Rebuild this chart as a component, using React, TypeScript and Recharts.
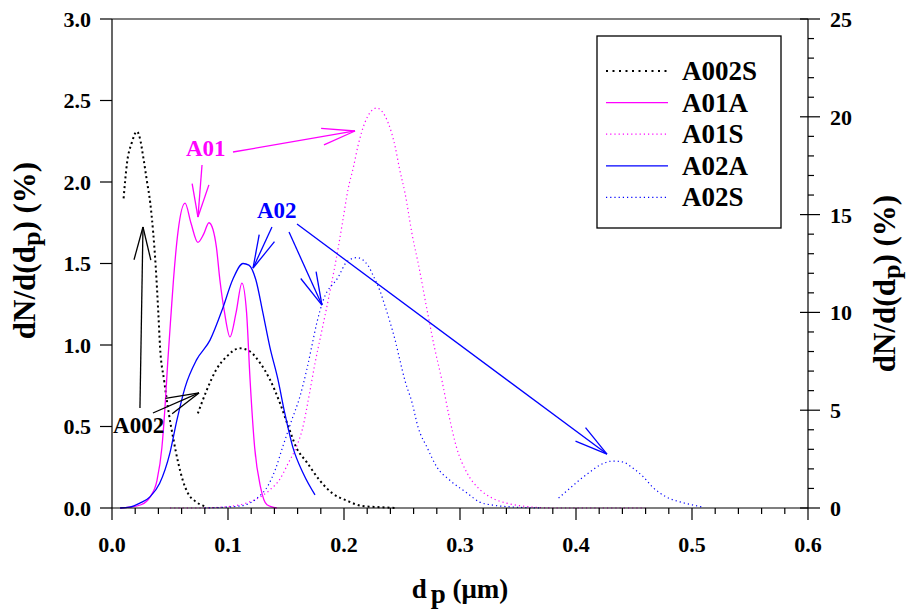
import React from "react";
import { LineChart, Line, XAxis, YAxis, ReferenceLine, ReferenceDot, Legend } from "recharts";

// dp in µm ; y in % (left axis 0-3, right axis 0-25)
type Pt = { x: number; y: number | null };

const A002S: Pt[] = [
  { x: 0.01, y: 1.9 }, { x: 0.013, y: 2.12 }, { x: 0.017, y: 2.24 }, { x: 0.0215, y: 2.31 },
  { x: 0.024, y: 2.27 }, { x: 0.027, y: 2.15 }, { x: 0.03, y: 2.01 }, { x: 0.033, y: 1.87 },
  { x: 0.0355, y: 1.69 }, { x: 0.0377, y: 1.48 }, { x: 0.0399, y: 1.2 }, { x: 0.0414, y: 0.99 },
  { x: 0.045, y: 0.78 }, { x: 0.049, y: 0.58 }, { x: 0.053, y: 0.42 }, { x: 0.057, y: 0.28 },
  { x: 0.061, y: 0.17 }, { x: 0.0655, y: 0.09 }, { x: 0.072, y: 0.04 }, { x: 0.08, y: 0.01 },
];

const A002A: Pt[] = [
  { x: 0.074, y: 0.58 }, { x: 0.0815, y: 0.72 }, { x: 0.09, y: 0.85 }, { x: 0.099, y: 0.93 },
  { x: 0.11, y: 0.98 }, { x: 0.119, y: 0.96 }, { x: 0.1276, y: 0.89 }, { x: 0.136, y: 0.79 },
  { x: 0.145, y: 0.64 }, { x: 0.152, y: 0.5 }, { x: 0.159, y: 0.37 }, { x: 0.168, y: 0.28 },
  { x: 0.179, y: 0.17 }, { x: 0.19, y: 0.09 }, { x: 0.2026, y: 0.045 }, { x: 0.216, y: 0.012 },
  { x: 0.231, y: 0.005 }, { x: 0.245, y: 0 },
];

const A01A: Pt[] = [
  { x: 0.007, y: 0 }, { x: 0.015, y: 0.005 }, { x: 0.025, y: 0.02 }, { x: 0.033, y: 0.07 },
  { x: 0.0388, y: 0.17 }, { x: 0.043, y: 0.37 }, { x: 0.0457, y: 0.62 }, { x: 0.048, y: 0.89 },
  { x: 0.051, y: 1.2 }, { x: 0.053, y: 1.4 }, { x: 0.057, y: 1.7 }, { x: 0.063, y: 1.87 },
  { x: 0.068, y: 1.75 }, { x: 0.074, y: 1.63 }, { x: 0.079, y: 1.68 }, { x: 0.0836, y: 1.75 },
  { x: 0.087, y: 1.71 }, { x: 0.09, y: 1.6 }, { x: 0.093, y: 1.4 }, { x: 0.097, y: 1.2 },
  { x: 0.1017, y: 1.05 }, { x: 0.107, y: 1.2 }, { x: 0.112, y: 1.38 }, { x: 0.116, y: 1.2 },
  { x: 0.119, y: 0.79 }, { x: 0.123, y: 0.37 }, { x: 0.128, y: 0.13 }, { x: 0.1336, y: 0.02 },
  { x: 0.142, y: 0 },
];

const A01S: Pt[] = [
  { x: 0.05, y: 0 }, { x: 0.075, y: 0 }, { x: 0.0957, y: 0.05 }, { x: 0.116, y: 0.26 },
  { x: 0.136, y: 0.92 }, { x: 0.145, y: 1.5 }, { x: 0.152, y: 2.3 }, { x: 0.158, y: 3.0 },
  { x: 0.164, y: 4.0 }, { x: 0.1707, y: 6.0 }, { x: 0.175, y: 7.4 }, { x: 0.181, y: 9.1 },
  { x: 0.188, y: 11.1 }, { x: 0.195, y: 13.3 }, { x: 0.199, y: 14.7 }, { x: 0.2035, y: 16.3 },
  { x: 0.208, y: 17.4 }, { x: 0.212, y: 18.5 }, { x: 0.218, y: 19.7 }, { x: 0.228, y: 20.45 },
  { x: 0.238, y: 19.7 }, { x: 0.244, y: 18.5 }, { x: 0.248, y: 17.3 }, { x: 0.2526, y: 16.1 },
  { x: 0.259, y: 13.9 }, { x: 0.264, y: 12.5 }, { x: 0.272, y: 10.0 }, { x: 0.278, y: 8.2 },
  { x: 0.2845, y: 6.5 }, { x: 0.29, y: 4.86 }, { x: 0.297, y: 3.1 }, { x: 0.306, y: 1.8 },
  { x: 0.317, y: 0.95 }, { x: 0.328, y: 0.5 }, { x: 0.34, y: 0.25 }, { x: 0.354, y: 0.1 },
  { x: 0.38, y: 0 }, { x: 0.46, y: 0 },
];

const A02A: Pt[] = [
  { x: 0.007, y: 0 }, { x: 0.015, y: 0.005 }, { x: 0.024, y: 0.03 }, { x: 0.033, y: 0.07 },
  { x: 0.041, y: 0.15 }, { x: 0.05, y: 0.34 }, { x: 0.056, y: 0.54 }, { x: 0.063, y: 0.74 },
  { x: 0.073, y: 0.91 }, { x: 0.0845, y: 1.03 }, { x: 0.0957, y: 1.23 }, { x: 0.104, y: 1.4 },
  { x: 0.113, y: 1.5 }, { x: 0.118, y: 1.49 }, { x: 0.124, y: 1.4 }, { x: 0.13, y: 1.2 },
  { x: 0.136, y: 0.99 }, { x: 0.143, y: 0.79 }, { x: 0.149, y: 0.58 }, { x: 0.156, y: 0.37 },
  { x: 0.165, y: 0.21 }, { x: 0.175, y: 0.08 },
];

const A02S: Pt[] = [
  { x: 0.08, y: 0 }, { x: 0.11, y: 0.1 }, { x: 0.125, y: 0.5 }, { x: 0.135, y: 1.2 },
  { x: 0.141, y: 2.0 }, { x: 0.147, y: 3.1 }, { x: 0.155, y: 4.5 }, { x: 0.162, y: 5.7 },
  { x: 0.168, y: 7.1 }, { x: 0.172, y: 8.2 }, { x: 0.1767, y: 9.5 }, { x: 0.182, y: 10.6 },
  { x: 0.195, y: 11.8 }, { x: 0.2026, y: 12.6 }, { x: 0.211, y: 12.8 }, { x: 0.2207, y: 12.4 },
  { x: 0.225, y: 11.9 }, { x: 0.231, y: 11.1 }, { x: 0.2355, y: 10.3 }, { x: 0.2397, y: 9.5 },
  { x: 0.244, y: 8.6 }, { x: 0.248, y: 7.6 }, { x: 0.2526, y: 6.5 }, { x: 0.2586, y: 5.4 },
  { x: 0.264, y: 4.1 }, { x: 0.2716, y: 3.1 }, { x: 0.28, y: 2.1 }, { x: 0.291, y: 1.43 },
  { x: 0.306, y: 0.77 }, { x: 0.317, y: 0.3 }, { x: 0.328, y: 0.15 }, { x: 0.346, y: 0.05 },
  { x: 0.37, y: 0 }, { x: 0.378, y: null },
  { x: 0.385, y: 0.51 }, { x: 0.395, y: 1.02 }, { x: 0.403, y: 1.43 }, { x: 0.412, y: 1.84 },
  { x: 0.4207, y: 2.2 }, { x: 0.432, y: 2.4 }, { x: 0.4405, y: 2.35 }, { x: 0.449, y: 2.04 },
  { x: 0.458, y: 1.6 }, { x: 0.466, y: 1.07 }, { x: 0.478, y: 0.56 }, { x: 0.4897, y: 0.31 },
  { x: 0.501, y: 0.15 }, { x: 0.5086, y: 0.05 },
];

const X_TICKS = [
  0, 0.02, 0.04, 0.06, 0.08, 0.1, 0.12, 0.14, 0.16, 0.18, 0.2, 0.22, 0.24, 0.26, 0.28, 0.3,
  0.32, 0.34, 0.36, 0.38, 0.4, 0.42, 0.44, 0.46, 0.48, 0.5, 0.52, 0.54, 0.56, 0.58, 0.6,
];
const LEFT_TICKS = [0, 0.5, 1, 1.5, 2, 2.5, 3];
const RIGHT_TICKS = [
  0, 1, 2, 3, 4, 5, 6, 7, 8, 9, 10, 11, 12, 13, 14, 15, 16, 17, 18, 19, 20, 21, 22, 23, 24, 25,
];

const MAGENTA = "#ff00ff";
const BLUE = "#0000ff";
const FONT = '"Liberation Serif", "Times New Roman", serif';

const SERIES = [
  { name: "A002S", data: A002S, axis: "left", color: "#000", width: 2, dash: "2 3", legend: true },
  { name: "A002A", data: A002A, axis: "left", color: "#000", width: 2, dash: "2 3", legend: false },
  { name: "A01A", data: A01A, axis: "left", color: MAGENTA, width: 1.3, dash: undefined, legend: true },
  { name: "A01S", data: A01S, axis: "right", color: MAGENTA, width: 1.2, dash: "1.2 3", legend: true },
  { name: "A02A", data: A02A, axis: "left", color: BLUE, width: 1.3, dash: undefined, legend: true },
  { name: "A02S", data: A02S, axis: "right", color: BLUE, width: 1.2, dash: "1.2 3", legend: true },
];

// annotations, in data units of the left axis
const NOTES = [
  { text: "A01", x: 0.0638, y: 2.16, color: MAGENTA },
  { text: "A02", x: 0.125, y: 1.779, color: BLUE },
  { text: "A002", x: 0.0009, y: 0.46, color: "#000" },
];
const ARROWS = [
  { color: MAGENTA, from: [0.1043, 2.184], to: [0.2095, 2.313] },
  { color: MAGENTA, from: [0.0776, 2.104], to: [0.0741, 1.785] },
  { color: BLUE, from: [0.1379, 1.724], to: [0.1216, 1.472] },
  { color: BLUE, from: [0.1526, 1.693], to: [0.181, 1.245] },
  { color: BLUE, from: [0.1595, 1.742], to: [0.4267, 0.331] },
  { color: "#000", from: [0.0241, 0.613], to: [0.0267, 1.724] },
  { color: "#000", from: [0.0353, 0.583], to: [0.075, 0.706] },
];

const TICK_SIZE = 12;
const X_MARGIN = 16;
const R_MARGIN = 10;

const arrowShape = (color: string) => (p: any) => {
  const { x1, y1, x2, y2 } = p;
  const ang = Math.atan2(y2 - y1, x2 - x1);
  const L = 34;
  const a = 0.25;
  const hx1 = x2 - L * Math.cos(ang - a);
  const hy1 = y2 - L * Math.sin(ang - a);
  const hx2 = x2 - L * Math.cos(ang + a);
  const hy2 = y2 - L * Math.sin(ang + a);
  return (
    <g stroke={color} strokeWidth={1.3} fill="none">
      <line x1={x1} y1={y1} x2={x2} y2={y2} />
      <line x1={hx1} y1={hy1} x2={x2} y2={y2} />
      <line x1={hx2} y1={hy2} x2={x2} y2={y2} />
    </g>
  );
};

const BottomTick = (p: any) => {
  const v = p.payload.value;
  const major = Math.abs(v * 10 - Math.round(v * 10)) < 1e-6;
  const ay = p.y - TICK_SIZE - X_MARGIN;
  return (
    <g>
      <line x1={p.x} x2={p.x} y1={ay} y2={ay + (major ? TICK_SIZE : 6)} stroke="#000" strokeWidth={1.2} />
      {major && (
        <text x={p.x} y={p.y} dy="0.71em" textAnchor="middle" fontFamily={FONT} fontWeight="bold" fontSize={22} fill="#000">
          {v.toFixed(1)}
        </text>
      )}
    </g>
  );
};

const RightTick = (p: any) => {
  const v = p.payload.value;
  const major = v % 5 === 0;
  const ax = p.x - TICK_SIZE - R_MARGIN;
  return (
    <g>
      <line x1={major ? ax - 8 : ax} x2={ax + (major ? TICK_SIZE : 6)} y1={p.y} y2={p.y} stroke="#000" strokeWidth={1.2} />
      {major && (
        <text x={p.x} y={p.y} dy="0.36em" textAnchor="start" fontFamily={FONT} fontWeight="bold" fontSize={22} fill="#000">
          {v}
        </text>
      )}
    </g>
  );
};

const YTitle = (cx: number, cy: number) => (
  <text
    x={cx}
    y={cy}
    transform={`rotate(-90 ${cx} ${cy})`}
    textAnchor="middle"
    fontFamily={FONT}
    fontWeight="bold"
    fontSize={31}
    fill="#000"
  >
    dN/d(d<tspan dy={5} fontSize={26}>p</tspan>
    <tspan dy={-5}>) (%)</tspan>
  </text>
);

const LegendBox = () => {
  const rows = SERIES.filter((s) => s.legend);
  return (
    <svg width={186} height={194}>
      <rect x={1} y={1} width={184} height={192} fill="#fff" stroke="#000" strokeWidth={1.3} />
      {rows.map((s, i) => {
        const cy = 36 + i * 31.6;
        return (
          <g key={s.name}>
            <line x1={10} x2={72} y1={cy} y2={cy} stroke={s.color} strokeWidth={s.name === "A002S" ? 2 : 1.3} strokeDasharray={s.name === "A002S" ? "2 4.5" : s.dash ? "1.2 3" : undefined} />
            <text x={86} y={cy + 9} fontFamily={FONT} fontWeight="bold" fontSize={27} fill="#000">
              {s.name}
            </text>
          </g>
        );
      })}
    </svg>
  );
};

export default function App() {
  return (
    <div style={{ position: "absolute", left: 0, top: 0, width: 908, height: 612, background: "#fff" }}>
      <LineChart width={908} height={612} margin={{ top: 19, right: 40, bottom: 44, left: 52 }}>
        <XAxis
          dataKey="x"
          type="number"
          domain={[0, 0.6]}
          ticks={X_TICKS}
          interval={0}
          allowDataOverflow
          height={60}
          stroke="#000"
          strokeWidth={1.2}
          tickLine={false}
          tickSize={TICK_SIZE}
          tickMargin={X_MARGIN}
          tick={BottomTick}
          label={(props: any) => {
            const vb = props.viewBox || { x: 112, y: 508, width: 696 };
            const cx = vb.x + vb.width / 2;
            const cy = vb.y + 90;
            return (
              <text x={cx} y={cy} textAnchor="middle" fontFamily={FONT} fontWeight="bold" fontSize={27} fill="#000">
                d<tspan dx={4} dy={5}>p</tspan>
                <tspan dy={-5}> (μm)</tspan>
              </text>
            );
          }}
        />
        <YAxis
          yAxisId="left"
          domain={[0, 3]}
          ticks={LEFT_TICKS}
          interval={0}
          width={60}
          stroke="#000"
          strokeWidth={1.2}
          tickSize={TICK_SIZE}
          tickMargin={9}
          tickFormatter={(v: number) => v.toFixed(1)}
          tick={{ fill: "#000", fontFamily: FONT, fontWeight: "bold", fontSize: 22 }}
          label={(props: any) => {
            const vb = props.viewBox || { x: 52, y: 19, height: 489 };
            return YTitle(vb.x - 17, vb.y + vb.height / 2 - 13);
          }}
        />
        <YAxis
          yAxisId="right"
          orientation="right"
          domain={[0, 25]}
          ticks={RIGHT_TICKS}
          interval={0}
          width={60}
          stroke="#000"
          strokeWidth={1.2}
          tickLine={false}
          tickSize={TICK_SIZE}
          tickMargin={R_MARGIN}
          tick={RightTick}
          label={(props: any) => {
            const vb = props.viewBox || { x: 808, y: 19, height: 489 };
            return YTitle(vb.x + 87, vb.y + vb.height / 2 + 20);
          }}
        />
        <ReferenceLine y={3} yAxisId="left" stroke="#000" strokeWidth={1.2} />

        {SERIES.map((s) => (
          <Line
            key={s.name}
            name={s.name}
            data={s.data}
            dataKey="y"
            yAxisId={s.axis}
            type="monotone"
            stroke={s.color}
            strokeWidth={s.width}
            strokeDasharray={s.dash}
            dot={false}
            activeDot={false}
            connectNulls={false}
            legendType={s.legend ? "line" : "none"}
            isAnimationActive={false}
          />
        ))}

        {ARROWS.map((a, i) => (
          <ReferenceLine
            key={"arrow" + i}
            yAxisId="left"
            segment={[
              { x: a.from[0], y: a.from[1] },
              { x: a.to[0], y: a.to[1] },
            ]}
            shape={arrowShape(a.color)}
          />
        ))}

        {NOTES.map((n) => (
          <ReferenceDot
            key={n.text}
            yAxisId="left"
            x={n.x}
            y={n.y}
            r={0}
            shape={(p: any) => (
              <text x={p.cx} y={p.cy} fontFamily={FONT} fontWeight="bold" fontSize={23} fill={n.color}>
                {n.text}
              </text>
            )}
          />
        ))}

        <Legend
          layout="horizontal"
          verticalAlign="middle"
          wrapperStyle={{ left: 596, top: 35, width: 186, height: 194 }}
          content={() => <LegendBox />}
        />
      </LineChart>
    </div>
  );
}
